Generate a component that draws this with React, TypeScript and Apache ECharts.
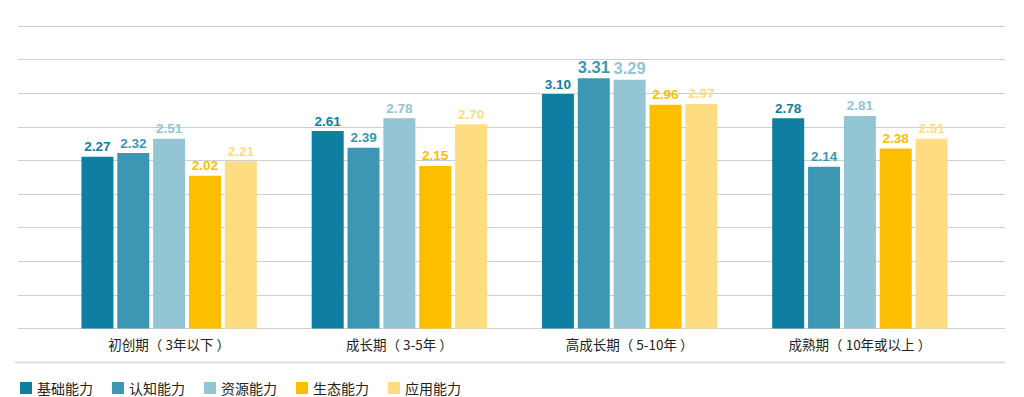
import React, { useEffect, useRef } from "react";
import * as echarts from "echarts";

const categories = ["初创期（ 3年以下 ）", "成长期（ 3-5年 ）", "高成长期（ 5-10年 ）", "成熟期（ 10年或以上 ）"];
const seriesNames = ["基础能力", "认知能力", "资源能力", "生态能力", "应用能力"];
const basic = [2.27, 2.61, 3.1, 2.78];
const cognitive = [2.32, 2.39, 3.31, 2.14];
const resource = [2.51, 2.78, 3.29, 2.81];
const ecology = [2.02, 2.15, 2.96, 2.38];
const application = [2.21, 2.7, 2.97, 2.51];
const seriesValues = [basic, cognitive, resource, ecology, application];
const colors = ["#0e7fa1", "#3c97b5", "#93c5d5", "#fdbe00", "#fedd82"];

const Y_MAX = 4;
const Y_INTERVAL = 4 / 9;
const CN = '"Noto Sans CJK SC", "Noto Sans", sans-serif';
const NUM = '"Liberation Sans", Arial, sans-serif';

export default function App() {
  const ref = useRef<HTMLDivElement>(null);
  useEffect(() => {
    document.body.style.margin = "0";
    if (!ref.current) return;
    const chart = echarts.init(ref.current, undefined, { renderer: "svg" });
    const bigLabel = (s: number, i: number) => i === 2 && (s === 1 || s === 2);
    const barSeries = seriesNames.map((name, s) => ({
      name,
      type: "bar",
      xAxisIndex: 1,
      yAxisIndex: 1,
      barWidth: 32,
      barGap: "12%",
      itemStyle: { color: colors[s] },
      label: {
        show: true,
        position: "top",
        distance: 3,
        color: colors[s],
        fontFamily: NUM,
        fontWeight: "bold",
        fontSize: 13.5,
        formatter: (p: any) => Number(p.value).toFixed(2),
      },
      data: seriesValues[s].map((v, i) =>
        bigLabel(s, i) ? { value: v, label: { fontSize: 16.5 } } : v
      ),
    }));
    chart.setOption({
      animation: false,
      legend: {
        data: seriesNames,
        left: 15,
        top: 376,
        icon: "rect",
        itemWidth: 12,
        itemHeight: 12,
        itemGap: 19,
        textStyle: { fontFamily: CN, fontSize: 14, color: "#222" },
      },
      grid: [
        { left: 18, right: 19, top: 26, bottom: 68.5 },
        { left: 54, width: 921, top: 26, bottom: 68.5 },
      ],
      xAxis: [
        {
          gridIndex: 0,
          type: "category",
          data: [""],
          axisLine: { show: false },
          axisTick: { show: false },
          axisLabel: { show: false },
        },
        {
          gridIndex: 1,
          type: "category",
          data: categories,
          axisLine: { show: false },
          axisTick: { show: false },
          axisLabel: { margin: 9, fontFamily: CN, fontSize: 13.5, color: "#222" },
        },
      ],
      yAxis: [
        {
          gridIndex: 0,
          type: "value",
          min: 0,
          max: Y_MAX,
          interval: Y_INTERVAL,
          axisLine: { show: false },
          axisTick: { show: false },
          axisLabel: { show: false },
          splitLine: { show: true, lineStyle: { color: "#cfcfcf", width: 1.2 } },
        },
        {
          gridIndex: 1,
          type: "value",
          min: 0,
          max: Y_MAX,
          interval: Y_INTERVAL,
          axisLine: { show: false },
          axisTick: { show: false },
          axisLabel: { show: false },
          splitLine: { show: false },
        },
      ],
      graphic: [
        {
          type: "line",
          shape: { x1: 15, y1: 362.5, x2: 1005, y2: 362.5 },
          style: { stroke: "#dddddd", lineWidth: 2 },
        },
      ],
      series: [
        { type: "bar", xAxisIndex: 0, yAxisIndex: 0, data: [], silent: true },
        ...barSeries,
      ],
    });
    return () => chart.dispose();
  }, []);
  return <div ref={ref} style={{ width: 1024, height: 397 }} />;
}
